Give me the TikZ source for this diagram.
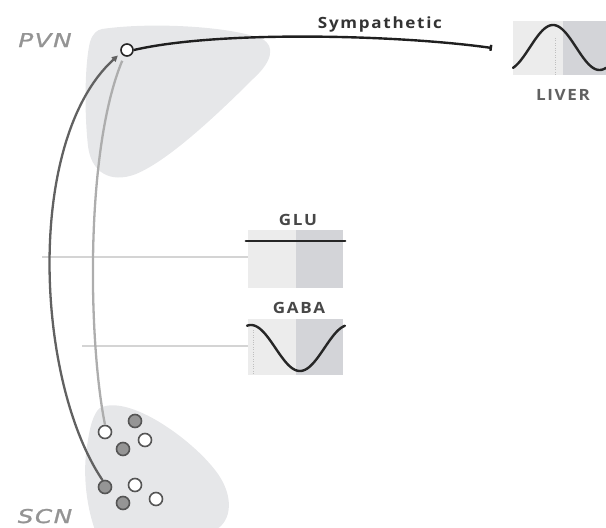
\documentclass[tikz,border=0pt]{standalone}
\usepackage{fontspec}
\setmainfont{Open Sans}
\newfontfamily\labelfont[LetterSpace=11,FakeStretch=1.1]{Open Sans}
\newfontfamily\regionfont[LetterSpace=8,FakeStretch=1.3,FakeBold=1.2]{DejaVu Sans}

\usetikzlibrary{arrows.meta,calc}

\definecolor{blobgray}{HTML}{E6E7E9}
\definecolor{panellight}{HTML}{ECECEC}
\definecolor{paneldark}{HTML}{D3D4D8}
\definecolor{tapgray}{HTML}{D4D4D4}
\definecolor{cellgray}{HTML}{959595}
\definecolor{rimgray}{HTML}{555555}

\tikzset{
  region/.style={anchor=base, font=\regionfont\itshape\fontsize{19}{19}\selectfont, text=black!42},
  lab/.style={anchor=base, font=\labelfont\bfseries\fontsize{15.5}{16}\selectfont, text=black!72},
  panel/.style={fill=panellight, inner sep=0pt},
  neuron/.style={circle, minimum size=13pt, inner sep=0pt, line width=1.6pt, draw=rimgray},
  cellon/.style={neuron, fill=cellgray},
  celloff/.style={neuron, fill=white},
  tap/.style={draw=tapgray, line width=1.3pt},
  trace/.style={line width=2.4pt, black!85, line cap=round},
  ticks/.style={draw=white!75!black, line width=0.6pt, dash pattern=on 0.8pt off 1.6pt},
}

\begin{document}
\begin{tikzpicture}[x=1pt,y=-1pt]
\useasboundingbox (0,0) rectangle (606,528);

% nuclei outlines
\fill[blobgray] (102,29) .. controls (150,22) and (230,26) .. (262,39)
  .. controls (276,46) and (271,62) .. (256,76)
  .. controls (222,110) and (170,160) .. (136,174)
  .. controls (110,184) and (91,172) .. (88,146)
  .. controls (84,110) and (85,62) .. (90,42)
  .. controls (93,33) and (97,30) .. (102,29);
\fill[blobgray] (102,407) .. controls (132,396) and (192,440) .. (215,470)
  .. controls (235,495) and (232,522) .. (215,530)
  -- (95,530) .. controls (86,505) and (82,470) .. (88,440)
  .. controls (91,420) and (96,409) .. (102,407);

% region labels
\node[region] (pvnlab) at (45,47) {PVN};
\node[region] (scnlab) at (45,523) {SCN};

% PVN output neuron
\node[celloff, draw=black!85, minimum size=12pt] (pvn) at (127,50) {};

% SCN neurons
\node[celloff] (scnA1) at (105,432) {};
\node[cellon]  (scnA2) at (135,421) {};
\node[celloff] (scnA3) at (145,440) {};
\node[cellon]  (scnA4) at (123,449) {};
\node[cellon]  (scnB1) at (105,487) {};
\node[celloff] (scnB2) at (135,485) {};
\node[cellon]  (scnB3) at (123,503) {};
\node[celloff] (scnB4) at (156,499) {};

% transmitter panels
\node[panel, minimum width=95pt, minimum height=58pt] (glu) at (295.5,259) {};
\fill[paneldark] (glu.north) rectangle (glu.south east);
\node[panel, minimum width=95pt, minimum height=56pt] (gaba) at (295.5,347) {};
\fill[paneldark] (gaba.north) rectangle (gaba.south east);
\node[panel, minimum width=93pt, minimum height=54pt] (liver) at (559.5,48) {};
\fill[paneldark] ($(liver.north)+(3,0)$) rectangle (liver.south east);

% dotted midlines inside panels
\draw[ticks] (555,38) -- (555,75);
\draw[ticks] (253,330) -- (253,375);

% panel traces
\draw[trace] ($(glu.north west)+(-2,11)$) -- ($(glu.north east)+(2,11)$);
\draw[trace, smooth] plot[domain=0:1, samples=60] ({247+98*\x},{348+23*cos(360*(\x-0.54))});
\draw[trace, smooth] plot[domain=0:1, samples=60] ({513+93*\x},{47.5-22.5*cos(360*(\x-0.43))});

% panel titles
\node[lab] (glulab) at (298,225) {GLU};
\node[lab] (gabalab) at (299,313) {GABA};
\node[lab, text=black!62] (liverlab) at (563,100.5) {LIVER};

% taps from the SCN projections
\coordinate (gluTap) at (42,257);
\coordinate (gabaTap) at (82,346);
\draw[tap] (gluTap) -- (gluTap -| glu.west);
\draw[tap] (gabaTap) -- (gabaTap -| gaba.west);

% SCN to PVN projections
\draw[line width=2.3pt, black!62, shorten >=4pt, -{Triangle[length=6pt,width=6pt]}]
  (scnB1.110) .. controls (35,380) and (25,140) .. (pvn.205);
\draw[line width=2.3pt, black!32, shorten >=5pt]
  (scnA1.north) .. controls (88,340) and (85,150) .. (pvn.245);

% sympathetic output to the liver
\coordinate (symEnd) at (492,48);
\draw[line width=2.4pt, black!88, -{Bar[width=6pt,line width=2.4pt]}]
  (pvn.east) .. controls (220,30) and (400,35) .. (symEnd);
\node[lab, text=black!80] (symlab) at (380,28) {Sympathetic};
\end{tikzpicture}
\end{document}
